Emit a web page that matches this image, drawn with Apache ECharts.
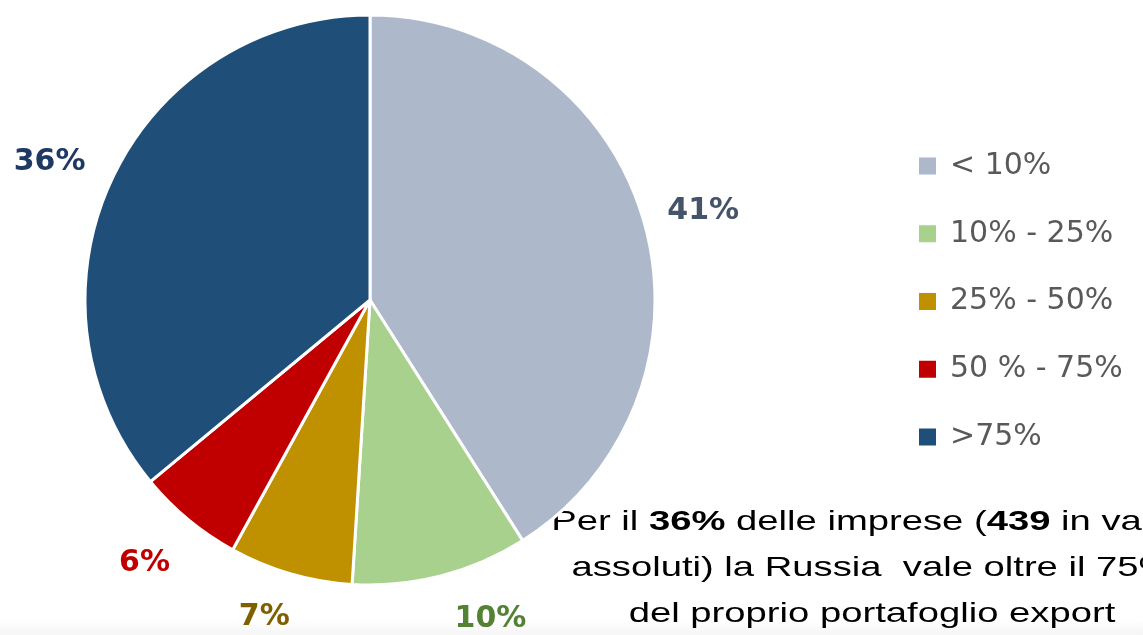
<!DOCTYPE html>
<html>
<head>
<meta charset="utf-8">
<title>Quota export verso la Russia</title>
<script src="https://cdn.jsdelivr.net/npm/echarts@6/dist/echarts.min.js"></script>
<style>
  html, body { margin: 0; padding: 0; background: #ffffff; }
  #chart { width: 1143px; height: 635px; }
</style>
</head>
<body>
<div id="chart"></div>
<script>
// Share of companies by weight of Russia in their export portfolio
const categories = ['< 10%', '10% - 25%', '25% - 50%', '50 % - 75%', '>75%'];
const shares = [41, 10, 7, 6, 36];

// Style constants
const sliceColors = ['#adb9ca', '#a9d18e', '#bf9000', '#c00000', '#1f4e79'];
const labelColors = ['#44546a', '#548235', '#7f6000', '#c00000', '#1f3864'];
// Small hand placement of the outside labels, in pixels
const labelNudge = [[-15, 0], [0, 9], [14, 10], [9, 17], [10, -2]];

const chart = echarts.init(document.getElementById('chart'), null, { renderer: 'canvas' });

const option = {
  backgroundColor: '#ffffff',
  animation: false,
  legend: {
    orient: 'vertical',
    left: 917,
    top: 151,
    padding: 0,
    icon: 'rect',
    itemWidth: 19,
    itemHeight: 19,
    itemGap: 37.75,
    selectedMode: false,
    data: categories,
    textStyle: {
      fontFamily: 'DejaVu Sans',
      fontSize: 30,
      lineHeight: 30,
      color: '#595959',
      padding: [0, 0, 0, 8]
    }
  },
  graphic: [
    {
      type: 'rect',
      left: 0,
      top: 620,
      shape: { width: 1143, height: 15 },
      style: {
        fill: new echarts.graphic.LinearGradient(0, 0, 0, 1, [
          { offset: 0, color: 'rgba(0,0,0,0)' },
          { offset: 1, color: 'rgba(0,0,0,0.04)' }
        ])
      },
      silent: true,
      z: -1
    },
    {
      type: 'text',
      x: 872,
      y: 499,
      scaleX: 1.365,
      silent: true,
      style: {
        text: 'Per il {b|36%} delle imprese ({b|439} in valori\nassoluti) la Russia  vale oltre il 75%\ndel proprio portafoglio export',
        fontFamily: 'Liberation Sans',
        fontSize: 28,
        lineHeight: 46,
        fill: '#000000',
        align: 'center',
        verticalAlign: 'top',
        rich: {
          b: {
            fontFamily: 'Liberation Sans',
            fontSize: 28,
            lineHeight: 46,
            fontWeight: 'bold',
            fill: '#000000'
          }
        }
      }
    }
  ],
  series: [
    {
      type: 'pie',
      center: [370, 300],
      radius: [0, 285],
      startAngle: 90,
      clockwise: true,
      avoidLabelOverlap: false,
      itemStyle: { borderColor: '#ffffff', borderWidth: 3 },
      emphasis: { disabled: true },
      label: {
        show: true,
        position: 'outside',
        formatter: '{c}%',
        fontFamily: 'DejaVu Sans',
        fontWeight: 'bold',
        fontSize: 30,
        distanceToLabelLine: 5
      },
      labelLine: { show: false, length: 35, length2: 0 },
      labelLayout: function (params) {
        const n = labelNudge[params.dataIndex];
        return { dx: n[0], dy: n[1] };
      },
      data: categories.map((name, i) => ({
        name: name,
        value: shares[i],
        itemStyle: { color: sliceColors[i] },
        label: { color: labelColors[i] }
      }))
    }
  ]
};

chart.setOption(option);
</script>
</body>
</html>
